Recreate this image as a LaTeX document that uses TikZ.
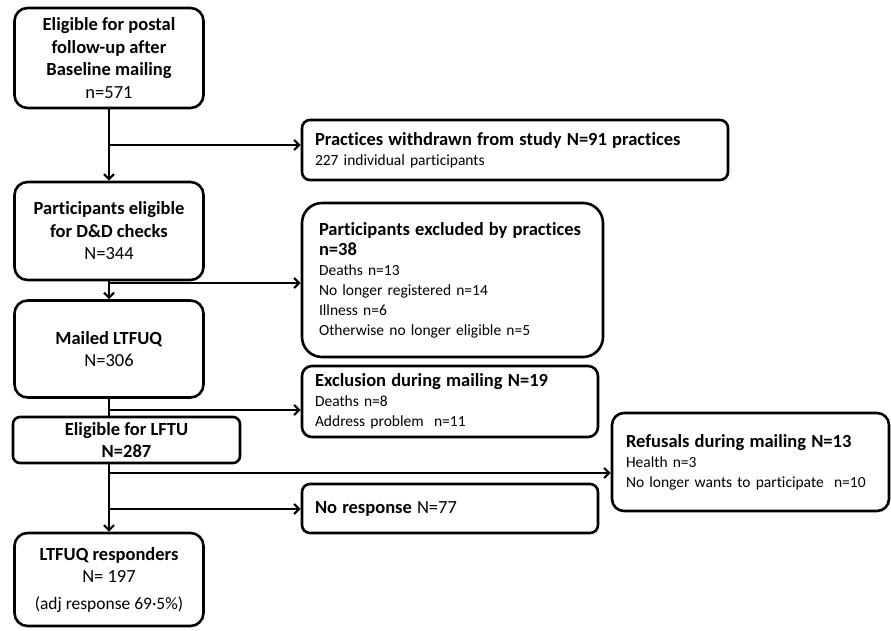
\documentclass[tikz,border=0pt]{standalone}
\usepackage{fontspec}
\setmainfont{Carlito}[Ligatures=NoCommon]
\usetikzlibrary{arrows.meta}
\newcommand{\ttl}[1]{\mbox{\fontsize{18.5}{21}\selectfont\bfseries #1}}
\newcommand{\sm}[1]{\mbox{#1}}
\begin{document}
\begin{tikzpicture}[x=1pt,y=-1pt,
  lbox/.style={draw, line width=2.6pt, inner xsep=4pt, inner ysep=0pt, align=center,
    font=\fontsize{18.5}{22.5}\selectfont},
  rbox/.style={draw, line width=2.6pt, inner ysep=0pt, align=left,
    font=\fontsize{15.5}{20}\selectfont},
  conn/.style={line width=2.4pt},
  arr/.style={conn, -{Straight Barb[length=5pt,width=10pt,line width=2.2pt]}}
]
\useasboundingbox (0,0) rectangle (891,630);

% left column
\node[lbox, rounded corners=13pt, minimum width=189pt, minimum height=100pt] (A) at (109,58)
  {\textbf{Eligible for postal}\\\textbf{follow-up after}\\\textbf{Baseline mailing}\\n=571};
\node[lbox, rounded corners=13pt, minimum width=189pt, minimum height=98pt] (B) at (109,231)
  {\textbf{Participants eligible}\\\textbf{for D\&D checks}\\N=344};
\node[lbox, rounded corners=13pt, minimum width=189pt, minimum height=97pt] (C) at (109,349)
  {\textbf{Mailed LTFUQ}\\N=306};
\node[lbox, rounded corners=7pt, minimum width=227pt, minimum height=46pt] (D) at (126.5,440)
  {\textbf{Eligible for LFTU}\\\textbf{N=287}};
\node[lbox, rounded corners=13pt, minimum width=189pt, minimum height=93pt] (E) at (109,579.5)
  {\textbf{LTFUQ responders}\\N= 197\\[4pt]{\fontsize{17.5}{22.5}\selectfont(adj response 69·5\%)}};

% right column
\node[rbox, rounded corners=8pt, minimum width=426pt, minimum height=60pt,
  inner xsep=13pt, text width=400pt] (F) at (515,150)
  {\ttl{Practices withdrawn from study N=91 practices}\\\sm{227 individual participants}};
\node[rbox, rounded corners=20pt, minimum width=301pt, minimum height=154pt,
  inner xsep=17pt, text width=267pt] (G) at (452.5,280)
  {\ttl{Participants excluded by practices}\\\ttl{n=38}\\\sm{Deaths n=13}\\\sm{No longer registered n=14}\\\sm{Illness n=6}\\\sm{Otherwise no longer eligible n=5}};
\node[rbox, rounded corners=10pt, minimum width=296pt, minimum height=71pt,
  inner xsep=13pt, text width=270pt] (H) at (450,401.5)
  {\ttl{Exclusion during mailing N=19}\\\sm{Deaths n=8}\\\sm{Address problem\ \ n=11}};
\node[rbox, rounded corners=12pt, minimum width=277pt, minimum height=98pt,
  inner xsep=14pt, text width=249pt] (I) at (750.5,462)
  {\ttl{Refusals during mailing N=13}\\\sm{Health n=3}\\\sm{No longer wants to participate\ \ n=10}};
\node[rbox, rounded corners=8pt, minimum width=296pt, minimum height=49pt,
  inner xsep=13pt, text width=270pt] (J) at (450,508.5)
  {\mbox{\fontsize{18.5}{21}\selectfont\textbf{No response} N=77}};

% trunk and branches
\coordinate (b1) at (109,145);
\coordinate (b2) at (109,283);
\coordinate (b3) at (109,410);
\coordinate (b4) at (109,473);
\coordinate (b5) at (109,509);

\draw[arr] (A.south) -- (B.north);
\draw[arr] (b1) -- (b1 -| F.west);
\draw[arr] (B.south) -- (C.north);
\draw[arr] (b2) -- (b2 -| G.west);
\draw[conn] (C.south) -- (C.south |- D.north);
\draw[arr] (b3) -- (b3 -| H.west);
\draw[arr] (D.south -| E.north) -- (E.north);
\draw[arr] (b4) -- (b4 -| I.west);
\draw[arr] (b5) -- (b5 -| J.west);
\end{tikzpicture}
\end{document}
